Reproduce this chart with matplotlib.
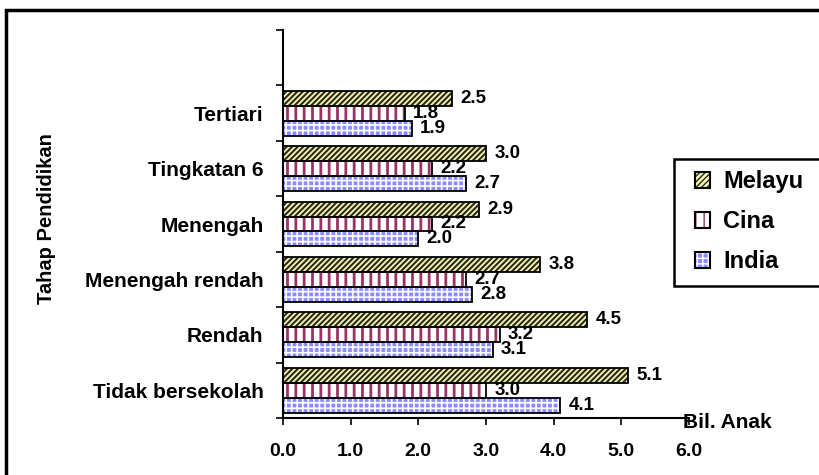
import numpy as np
import matplotlib
matplotlib.use("Agg")
import matplotlib.pyplot as plt
from matplotlib.patches import Rectangle

plt.rcParams['font.family'] = ['Liberation Sans', 'DejaVu Sans']
plt.rcParams['font.weight'] = 'bold'

# data (bottom to top)
categories = ["Tidak bersekolah", "Rendah", "Menengah rendah",
              "Menengah", "Tingkatan 6", "Tertiari"]
melayu = [5.1, 4.5, 3.8, 2.9, 3.0, 2.5]
cina = [3.0, 3.2, 2.7, 2.2, 2.2, 1.8]
india = [4.1, 3.1, 2.8, 2.0, 2.7, 1.9]
series_names = ["Melayu", "Cina", "India"]
x_ticks = [0.0, 1.0, 2.0, 3.0, 4.0, 5.0, 6.0]

fig = plt.figure(figsize=(8.2, 4.75), dpi=100)
ax = fig.add_axes([283 / 820, 1 - 418 / 475, (689 - 283) / 820, (418 - 30) / 475])

y = np.arange(len(categories))
h = 0.27
styles = [
    dict(facecolor='#F4F4BC', hatch_col='#2B2B10', hatch='//////', hlw=1.5),
    dict(facecolor='white', hatch_col='#993366', hatch='||', hlw=2.0),
    dict(facecolor='#8C8CFF', hatch_col='white', hatch='+++', hlw=1.2),
]
offsets = [h, 0, -h]
handles = []
for vals, st, off, name in zip([melayu, cina, india], styles, offsets, series_names):
    with plt.rc_context({'hatch.linewidth': st['hlw']}):
        # hatched fill (hatch takes the edge colour), then a black outline on top
        ax.barh(y + off, vals, height=h, color=st['facecolor'],
                edgecolor=st['hatch_col'], hatch=st['hatch'], linewidth=0, zorder=2)
        hp = Rectangle((0, 0), 1, 1, facecolor=st['facecolor'], edgecolor=st['hatch_col'],
                       hatch=st['hatch'], linewidth=0)
    handles.append(hp)
    bars = ax.barh(y + off, vals, height=h, fill=False,
                   edgecolor='black', linewidth=1.3, zorder=3)
    for b, v in zip(bars, vals):
        ax.annotate(f"{v:.1f}", (v, b.get_y() + h / 2), xytext=(6, 0),
                    textcoords='offset points', va='center', ha='left',
                    fontsize=13.5, fontweight='bold', zorder=4)

ax.set_xlim(0, 6)
ax.set_ylim(-0.5, 6.5)
ax.set_xticks(x_ticks)
ax.set_xticklabels([f"{t:.1f}" for t in x_ticks], fontsize=14, fontweight='bold')
ax.tick_params(axis='x', direction='out', length=5, width=1.2, pad=13)

ax.set_yticks(y)
ax.set_yticklabels(categories, fontsize=15, fontweight='bold')
ax.set_yticks(np.arange(-0.5, 7.0, 1.0), minor=True)
ax.tick_params(axis='y', which='major', length=0, pad=14)
ax.tick_params(axis='y', which='minor', direction='out', length=5, width=1.2)

for s in ['top', 'right']:
    ax.spines[s].set_visible(False)
for s in ['left', 'bottom']:
    ax.spines[s].set_linewidth(1.5)

fig.text(47 / 820, 1 - 219 / 475, "Tahap Pendidikan", rotation=90, ha='center', va='center',
         fontsize=14.5, fontweight='bold')
fig.text(683 / 820, 1 - 422 / 475, "Bil. Anak", ha='left', va='center',
         fontsize=15, fontweight='bold')

# legend: own frame, running off the right edge like the reference
fig.patches.append(Rectangle((674 / 820, 1 - 286 / 475), 0.3, 127 / 475,
                             transform=fig.transFigure, facecolor='white',
                             edgecolor='black', linewidth=1.8, zorder=5))
outline = [Rectangle((0, 0), 1, 1, fill=False, edgecolor='black', linewidth=1.5) for _ in handles]
leg = fig.legend([(hh, o) for hh, o in zip(handles, outline)], series_names,
                 loc='upper left', bbox_to_anchor=(695 / 820, 1 - 170 / 475),
                 prop={'weight': 'bold', 'size': 17},
                 frameon=False, handlelength=0.65, handleheight=0.65,
                 handletextpad=0.55, labelspacing=0.72, borderpad=0, borderaxespad=0)
leg.set_zorder(6)

# outer chart border (right and bottom edges fall outside the image)
fig.patches.append(Rectangle((6 / 820, -0.1), 1.2, 1.1 - 10 / 475, transform=fig.transFigure,
                             fill=False, edgecolor='black', linewidth=2.5))

fig.savefig("out.png", dpi=100)
